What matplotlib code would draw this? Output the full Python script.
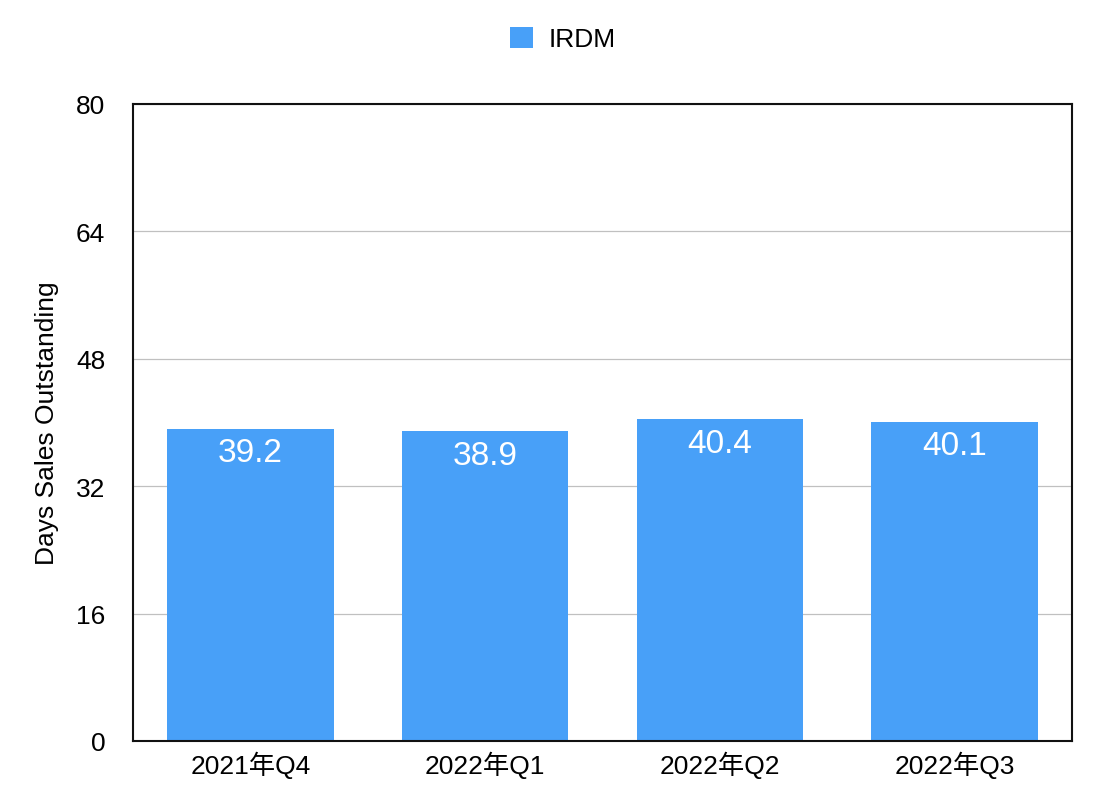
import numpy as np
import matplotlib.pyplot as plt

plt.rcParams['font.family'] = ['Liberation Sans', 'Noto Sans CJK JP']

quarters = ['2021年Q4', '2022年Q1', '2022年Q2', '2022年Q3']
dso = [39.2, 38.9, 40.4, 40.1]
yticks = [0, 16, 32, 48, 64, 80]

fig = plt.figure(figsize=(11.06, 8.04), dpi=100)
ax = fig.add_axes([133 / 1106, 62 / 804, 939 / 1106, 637 / 804])

x = np.arange(len(quarters))
bars = ax.bar(x, dso, width=0.71, color='#48a0f8', label='IRDM', zorder=2)

for b, v in zip(bars, dso):
    ax.annotate(f'{v}', (b.get_x() + b.get_width() / 2, v),
                xytext=(0, -6), textcoords='offset points',
                ha='center', va='top', color='white', fontsize=24)

ax.set_xlim(-0.5, len(quarters) - 0.5)
ax.set_ylim(0, 80)
ax.set_yticks(yticks)
ax.set_xticks(x)
ax.set_xticklabels(quarters)
ax.tick_params(axis='both', length=0, labelsize=19)
ax.tick_params(axis='y', pad=20)
ax.tick_params(axis='x', pad=7)
ax.yaxis.grid(True, color='#c0c0c0', linewidth=0.9, zorder=0)
for s in ax.spines.values():
    s.set_linewidth(1.5)
    s.set_color('#111111')

ax.set_ylabel('Days Sales Outstanding', fontsize=19, labelpad=12)
fig.legend(loc='center', bbox_to_anchor=(563 / 1106, 1 - 40 / 804), frameon=False,
           fontsize=19, handlelength=0.85, handleheight=0.85, handletextpad=0.6)

plt.savefig('out.png')
